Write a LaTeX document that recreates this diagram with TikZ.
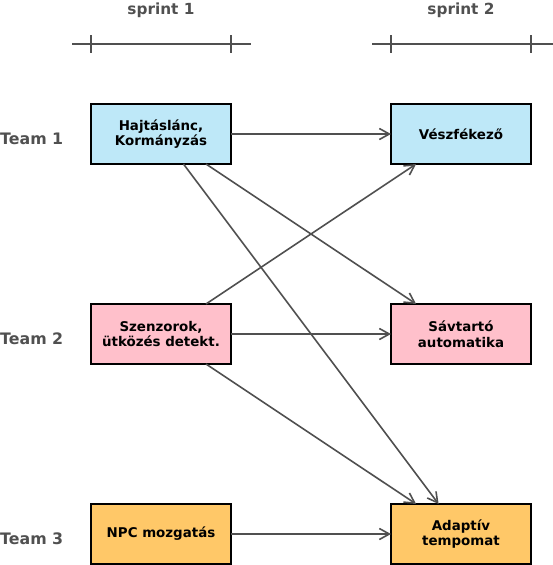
\documentclass[tikz,border=0pt]{standalone}
\usepackage{fontspec}
\setmainfont{DejaVu Sans}
\usetikzlibrary{arrows.meta}
\definecolor{boxblue}{RGB}{190,232,248}
\definecolor{boxpink}{RGB}{255,192,203}
\definecolor{boxorange}{RGB}{255,200,104}
\definecolor{linegray}{RGB}{80,80,80}
\begin{document}
\begin{tikzpicture}[x=1pt,y=-1pt,
  task/.style={draw=black,line width=1.8pt,minimum width=140pt,minimum height=60pt,
    inner sep=0pt,outer sep=0pt,align=center,font=\fontsize{13.4}{15.6}\selectfont\bfseries},
  team/.style={anchor=west,inner sep=0pt,text=linegray,font=\fontsize{15.8}{18}\selectfont\bfseries},
  sprint/.style={inner sep=0pt,text=linegray,font=\fontsize{15.3}{18}\selectfont\bfseries},
  dep/.style={draw=linegray,line width=1.6pt,-{Straight Barb[length=10pt,width=11pt,line width=1.6pt]}},
  axis/.style={draw=linegray,line width=1.7pt}]
\useasboundingbox (0,0) rectangle (553,565);
% timeline
\node[sprint] (s1) at (161,10) {sprint 1};
\node[sprint] (s2) at (461,10) {sprint 2};
\coordinate (l1a) at (72,44); \coordinate (l1b) at (251,44);
\coordinate (l2a) at (372,44); \coordinate (l2b) at (553,44);
\draw[axis] (l1a) -- (l1b);
\draw[axis] (l2a) -- (l2b);
\foreach \x in {91,231,391,531}{
  \draw[axis] (\x,35) -- (\x,53);
}
% team labels
\node[team] (t1) at (0,139) {Team 1};
\node[team] (t2) at (0,339) {Team 2};
\node[team] (t3) at (0,539) {Team 3};
% tasks
\node[task,fill=boxblue] (a1) at (161,134) {Hajtáslánc,\\Kormányzás};
\node[task,fill=boxpink] (a2) at (161,334) {Szenzorok,\\ütközés detekt.};
\node[task,fill=boxorange] (a3) at (161,534) {NPC mozgatás};
\node[task,fill=boxblue] (b1) at (461,134) {Vészfékező};
\node[task,fill=boxpink] (b2) at (461,334) {Sávtartó\\automatika};
\node[task,fill=boxorange] (b3) at (461,534) {Adaptív\\tempomat};
% dependencies
\draw[dep] (a1) -- (b1);
\draw[dep] (a1) -- (b2);
\draw[dep] (a1) -- (b3);
\draw[dep] (a2) -- (b1);
\draw[dep] (a2) -- (b2);
\draw[dep] (a2) -- (b3);
\draw[dep] (a3) -- (b3);
\end{tikzpicture}
\end{document}
